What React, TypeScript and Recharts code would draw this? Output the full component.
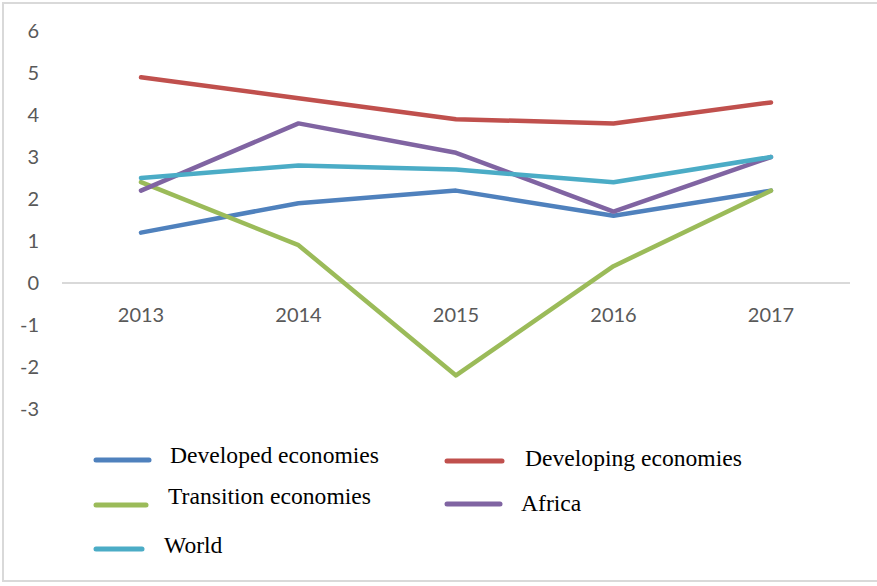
import React from 'react'
import { LineChart, Line, XAxis, YAxis, ReferenceLine } from 'recharts'

const years = ['2013', '2014', '2015', '2016', '2017']
const developed = [1.2, 1.9, 2.2, 1.6, 2.2]
const developing = [4.9, 4.4, 3.9, 3.8, 4.3]
const transition = [2.4, 0.9, -2.2, 0.4, 2.2]
const africa = [2.2, 3.8, 3.1, 1.7, 3.0]
const world = [2.5, 2.8, 2.7, 2.4, 3.0]
const yTicks = [-3, -2, -1, 0, 1, 2, 3, 4, 5, 6]

const series = [
    { key: 'developed', name: 'Developed economies', values: developed, color: '#4F81BD' },
    { key: 'developing', name: 'Developing economies', values: developing, color: '#C0504D' },
    { key: 'transition', name: 'Transition economies', values: transition, color: '#9BBB59' },
    { key: 'africa', name: 'Africa', values: africa, color: '#8064A2' },
    { key: 'world', name: 'World', values: world, color: '#4BACC6' },
]

// where each legend entry sits (same order as series)
const legendSpots = [
    { x1: 96, x2: 149, ly: 460, tx: 170, ty: 463 },
    { x1: 447, x2: 502, ly: 461, tx: 525, ty: 466 },
    { x1: 96, x2: 146, ly: 505, tx: 168, ty: 504 },
    { x1: 447, x2: 500, ly: 504, tx: 521, ty: 511 },
    { x1: 96, x2: 142, ly: 549, tx: 164, ty: 553 },
]

const data = years.map((year, i) => {
    const row: any = { year }
    series.forEach(s => { row[s.key] = s.values[i] })
    return row
})

const tickFont = { fontFamily: 'Lato', fontSize: 20, fill: '#595959' }

function YearTick(props: any) {
    const { x, y, payload } = props
    return (
        <text x={x} y={y - 87} textAnchor="middle" {...tickFont}>{payload.value}</text>
    )
}

export default function App() {
    return (
        <div style={{ position: 'absolute', left: 0, top: 0, width: 877, height: 586, background: '#fff', overflow: 'hidden' }}>
            <div style={{ position: 'absolute', left: 2, top: 2, width: 890, height: 580, border: '2px solid #D9D9D9', boxSizing: 'border-box' }} />
            <LineChart width={877} height={586} data={data} margin={{ top: 31, right: 27, bottom: 147, left: 0 }}>
                <XAxis dataKey="year" height={30} axisLine={false} tickLine={false} tickSize={0} tickMargin={0}
                    padding={{ left: 79, right: 79 }} tick={<YearTick />} interval={0} />
                <YAxis domain={[-3, 6]} ticks={yTicks} width={62} axisLine={false} tickLine={false}
                    tickSize={0} tickMargin={23} tick={tickFont} interval={0} />
                <ReferenceLine y={0} stroke="#D9D9D9" strokeWidth={2} />
                {series.map(s => (
                    <Line key={s.key} dataKey={s.key} name={s.name} stroke={s.color} strokeWidth={4.5}
                        strokeLinecap="round" strokeLinejoin="round" dot={false} isAnimationActive={false} type="linear" />
                ))}
            </LineChart>
            <svg width={877} height={586} style={{ position: 'absolute', left: 0, top: 0, pointerEvents: 'none' }}>
                {series.map((s, i) => {
                    const p = legendSpots[i]
                    return (
                        <g key={s.key}>
                            <line x1={p.x1} x2={p.x2} y1={p.ly} y2={p.ly} stroke={s.color} strokeWidth={5} strokeLinecap="round" />
                            <text x={p.tx} y={p.ty} fontFamily="'Liberation Serif', 'Times New Roman', serif" fontSize={23.6} fill="#000">{s.name}</text>
                        </g>
                    )
                })}
            </svg>
        </div>
    )
}
